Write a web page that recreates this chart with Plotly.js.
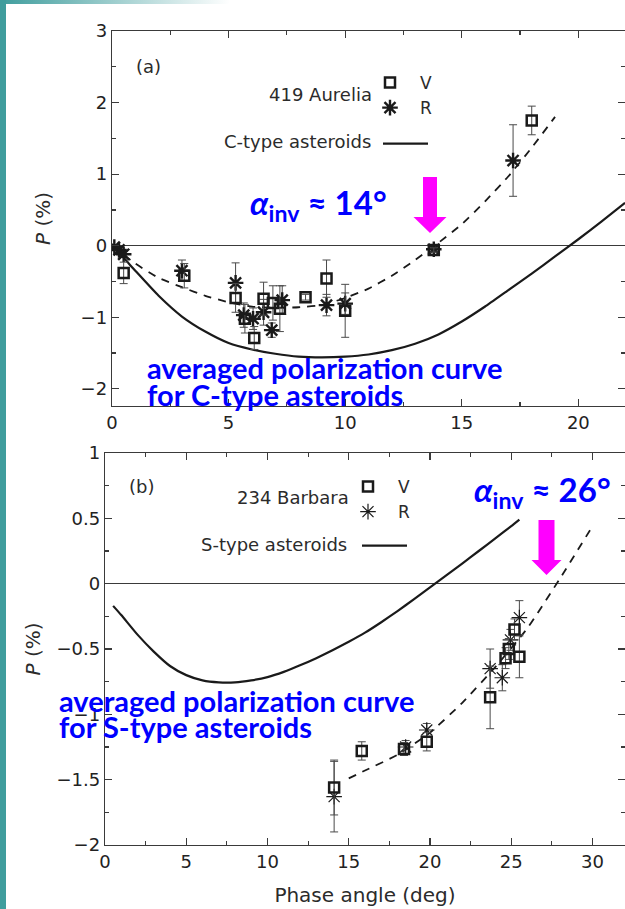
<!DOCTYPE html>
<html><head><meta charset="utf-8">
<script src="https://cdn.plot.ly/plotly-3.0.1.min.js"></script>
<style>
html,body{margin:0;padding:0;background:#fff;}
#wrap{position:relative;width:625px;height:909px;overflow:hidden;}
#chart{width:625px;height:909px;}
#bar{position:absolute;left:0;top:0;width:6px;height:909px;background:#3f9d9d;}
#strip{position:absolute;left:0;top:0;width:230px;height:4px;background:linear-gradient(to right,#3f9d9d,rgba(255,255,255,0));}
</style></head>
<body><div id="wrap"><div id="chart"></div><div id="bar"></div><div id="strip"></div></div>
<script>
// ---- Panel (a): 419 Aurelia ----
const aurV_phase = [0.5, 3.1, 5.3, 5.7, 6.1, 6.5, 6.9, 7.2, 8.3, 9.2, 10.0, 13.8, 18.0];
const aurV_P     = [-0.38, -0.42, -0.73, -1.02, -1.29, -0.74, -0.80, -0.88, -0.72, -0.46, -0.91, -0.06, 1.75];
const aurV_err   = [0.15, 0.17, 0.20, 0.20, 0.16, 0.23, 0.24, 0.32, 0.04, 0.26, 0.37, 0.03, 0.20];

const aurR_phase = [0.1, 0.3, 0.5, 3.0, 5.3, 5.65, 6.05, 6.5, 6.85, 7.3, 9.2, 10.0, 13.8, 17.2];
const aurR_P     = [-0.02, -0.06, -0.12, -0.35, -0.52, -0.97, -1.02, -0.93, -1.18, -0.76, -0.83, -0.81, -0.05, 1.19];
const aurR_err   = [0.03, 0.03, 0.04, 0.15, 0.28, 0.17, 0.15, 0.18, 0.10, 0.20, 0.15, 0.15, 0.03, 0.50];

const aurFit_phase = [0, 1, 2, 3, 4, 5, 6, 7, 8, 9, 10, 11, 12, 13, 14, 15, 16, 17, 18, 19];
const aurFit_P     = [0, -0.25, -0.45, -0.58, -0.70, -0.79, -0.85, -0.87, -0.86, -0.83, -0.73, -0.60, -0.42, -0.20, 0.04, 0.30, 0.62, 0.97, 1.37, 1.80];

const cType_phase = [0, 0.5, 1, 2, 3, 4, 5, 6, 7, 8, 9, 10, 11, 12, 13, 14, 15, 16, 17, 18, 19, 20, 21, 22];
const cType_P     = [0, -0.17, -0.35, -0.70, -0.99, -1.20, -1.36, -1.45, -1.51, -1.55, -1.56, -1.55, -1.52, -1.46, -1.37, -1.24, -1.06, -0.85, -0.62, -0.39, -0.15, 0.09, 0.34, 0.60];

// ---- Panel (b): 234 Barbara ----
const barV_phase = [14.1, 15.8, 18.4, 19.8, 23.7, 24.65, 24.85, 25.2, 25.5];
const barV_P     = [-1.56, -1.28, -1.265, -1.21, -0.87, -0.57, -0.50, -0.35, -0.56];
const barV_err   = [0.21, 0.07, 0.05, 0.07, 0.24, 0.08, 0.08, 0.08, 0.16];

const barR_phase = [14.1, 18.5, 19.8, 23.7, 24.45, 24.95, 25.5];
const barR_P     = [-1.63, -1.25, -1.12, -0.65, -0.72, -0.43, -0.26];
const barR_err   = [0.27, 0.05, 0.05, 0.15, 0.10, 0.08, 0.13];

const barFit_phase = [15, 16, 18, 20, 22, 24, 26, 28, 30];
const barFit_P     = [-1.49, -1.43, -1.31, -1.14, -0.91, -0.64, -0.34, 0.04, 0.44];

const sType_phase = [0.5, 1, 2, 3, 4, 5, 6, 7, 8, 9, 10, 11, 12, 13, 14, 15, 16, 17, 18, 19, 20, 21, 22, 23, 24, 25, 25.5];
const sType_P     = [-0.17, -0.24, -0.39, -0.52, -0.63, -0.70, -0.74, -0.755, -0.755, -0.74, -0.715, -0.675, -0.625, -0.57, -0.51, -0.445, -0.375, -0.295, -0.21, -0.12, -0.028, 0.064, 0.156, 0.25, 0.345, 0.44, 0.49];

// ---- helpers (pixel -> paper) ----
const W = 625, H = 909;
const PX = x => x / W, PY = y => 1 - y / H;
const TXT = '#2b2b2b', AX = '#3a3a3a', INK = '#1a1a1a';
const FONT = 'DejaVu Sans, Arial, sans-serif';
const BLUE = '#0000FF';

function arrowPath(cx, top, headTop, tip, sh, hh) {
  const p = [[cx - sh, top], [cx + sh, top], [cx + sh, headTop], [cx + hh, headTop], [cx, tip], [cx - hh, headTop], [cx - sh, headTop]];
  return 'M' + p.map(q => PX(q[0]).toFixed(5) + ',' + PY(q[1]).toFixed(5)).join('L') + 'Z';
}

const errStyle = (arr, w) => ({type: 'data', array: arr, visible: true, color: '#4a4a4a', thickness: 1, width: w});

const traces = [
  {x: cType_phase, y: cType_P, xaxis: 'x', yaxis: 'y', mode: 'lines', name: ' ', legend: 'legend2',
   line: {color: INK, width: 2.2, shape: 'spline', smoothing: 0.5}},
  {x: aurFit_phase, y: aurFit_P, xaxis: 'x', yaxis: 'y', mode: 'lines', showlegend: false,
   line: {color: INK, width: 1.8, dash: '8px,7px', shape: 'spline', smoothing: 0.5}},
  {x: aurR_phase, y: aurR_P, xaxis: 'x', yaxis: 'y', mode: 'markers', name: 'R', legend: 'legend',
   error_y: errStyle(aurR_err, 4),
   marker: {symbol: 'asterisk-open', size: 13, color: INK, line: {color: INK, width: 2.4}}},
  {x: aurV_phase, y: aurV_P, xaxis: 'x', yaxis: 'y', mode: 'markers', name: 'V', legend: 'legend',
   error_y: errStyle(aurV_err, 4),
   marker: {symbol: 'square-open', size: 10, color: INK, line: {color: INK, width: 2.5}}},

  {x: sType_phase, y: sType_P, xaxis: 'x2', yaxis: 'y2', mode: 'lines', name: ' ', legend: 'legend4',
   line: {color: INK, width: 2.2, shape: 'spline', smoothing: 0.5}},
  {x: barFit_phase, y: barFit_P, xaxis: 'x2', yaxis: 'y2', mode: 'lines', showlegend: false,
   line: {color: INK, width: 1.8, dash: '8px,7px', shape: 'spline', smoothing: 0.5}},
  {x: barR_phase, y: barR_P, xaxis: 'x2', yaxis: 'y2', mode: 'markers', name: 'R', legend: 'legend3',
   error_y: errStyle(barR_err, 4),
   marker: {symbol: 'asterisk-open', size: 13, color: INK, line: {color: INK, width: 1.2}}},
  {x: barV_phase, y: barV_P, xaxis: 'x2', yaxis: 'y2', mode: 'markers', name: 'V', legend: 'legend3',
   error_y: errStyle(barV_err, 4),
   marker: {symbol: 'square-open', size: 10, color: INK, line: {color: INK, width: 2.5}}}
];

const axCommon = {
  showline: true, linecolor: AX, linewidth: 1.3, mirror: 'ticks', ticks: 'inside', ticklen: 7,
  tickcolor: AX, tickwidth: 1.2, showgrid: false, tickfont: {family: FONT, size: 18, color: '#222'}
};

const legCommon = {bgcolor: 'rgba(0,0,0,0)', borderwidth: 0, font: {family: FONT, size: 17, color: TXT},
  xanchor: 'left', yanchor: 'top', itemwidth: 50, tracegroupgap: 0};

const layout = {
  width: W, height: H, margin: {l: 0, r: 0, t: 0, b: 0},
  paper_bgcolor: '#fff', plot_bgcolor: '#fff',
  xaxis: Object.assign({}, axCommon, {domain: [112 / W, 1], range: [0, 22], anchor: 'y', dtick: 5, tick0: 0,
    zeroline: false, minor: {dtick: 2.5, ticks: 'inside', ticklen: 4, tickcolor: AX}}),
  yaxis: Object.assign({}, axCommon, {domain: [PY(406), PY(31)], range: [-2.24, 3], anchor: 'x', dtick: 1, tick0: 0,
    zeroline: true, zerolinecolor: AX, zerolinewidth: 1.1,
    minor: {dtick: 0.5, ticks: 'inside', ticklen: 4, tickcolor: AX},
    title: {text: '<i>P</i> (%)', font: {family: FONT, size: 20, color: TXT}, standoff: 24}}),
  xaxis2: Object.assign({}, axCommon, {domain: [105 / W, 1], range: [0, 32], anchor: 'y2', dtick: 5, tick0: 0,
    zeroline: false, minor: {dtick: 2.5, ticks: 'inside', ticklen: 4, tickcolor: AX},
    title: {text: 'Phase angle (deg)', font: {family: FONT, size: 20, color: TXT}, standoff: 17}}),
  yaxis2: Object.assign({}, axCommon, {domain: [PY(845), PY(453)], range: [-2, 1], anchor: 'x2', dtick: 0.5, tick0: 0,
    zeroline: true, zerolinecolor: AX, zerolinewidth: 1.1,
    minor: {dtick: 0.25, ticks: 'inside', ticklen: 4, tickcolor: AX},
    title: {text: '<i>P</i> (%)', font: {family: FONT, size: 20, color: TXT}, standoff: 10}}),
  legend: Object.assign({}, legCommon, {x: PX(360), y: PY(65), traceorder: 'reversed'}),
  legend2: Object.assign({}, legCommon, {x: PX(378), y: PY(126), itemwidth: 45}),
  legend3: Object.assign({}, legCommon, {x: PX(338), y: PY(469), traceorder: 'reversed'}),
  legend4: Object.assign({}, legCommon, {x: PX(357), y: PY(528), itemwidth: 45}),
  shapes: [
    {type: 'path', xref: 'paper', yref: 'paper', path: arrowPath(430, 177, 217, 233, 7, 16.5), fillcolor: '#FF00FF', line: {width: 0}},
    {type: 'path', xref: 'paper', yref: 'paper', path: arrowPath(546.5, 520, 560, 575, 8, 15), fillcolor: '#FF00FF', line: {width: 0}}
  ],
  annotations: [
    {text: '(a)', x: PX(148), y: PY(67)},
    {text: '419 Aurelia', x: PX(320), y: PY(94)},
    {text: 'C-type asteroids', x: PX(297), y: PY(141)},
    {text: '(b)', x: PX(141), y: PY(486)},
    {text: '234 Barbara', x: PX(293), y: PY(497)},
    {text: 'S-type asteroids', x: PX(274), y: PY(544)}
  ].map(a => Object.assign({xref: 'paper', yref: 'paper', showarrow: false, xanchor: 'center', yanchor: 'middle',
    font: {family: FONT, size: 18, color: TXT}}, a)).concat([
    {text: '<b><i>α</i><sub>inv</sub> ≈ 14°</b>', x: PX(248), y: PY(204), xanchor: 'left'},
    {text: '<b><i>α</i><sub>inv</sub> ≈ 26°</b>', x: PX(472), y: PY(491), xanchor: 'left'}
  ].map(a => Object.assign({xref: 'paper', yref: 'paper', showarrow: false, yanchor: 'middle',
    font: {family: 'Lato, sans-serif', size: 33, color: BLUE}}, a))).concat([
    {text: '<b>averaged polarization curve</b>', x: PX(145), y: PY(368)},
    {text: '<b>for C-type asteroids</b>', x: PX(145), y: PY(394)},
    {text: '<b>averaged polarization curve</b>', x: PX(57), y: PY(700)},
    {text: '<b>for S-type asteroids</b>', x: PX(57), y: PY(726)}
  ].map(a => Object.assign({xref: 'paper', yref: 'paper', showarrow: false, xanchor: 'left', yanchor: 'middle',
    font: {family: 'Lato, sans-serif', size: 29, color: BLUE}}, a)))
};

Plotly.newPlot('chart', traces, layout, {displayModeBar: false, staticPlot: true});
</script>
</body></html>
